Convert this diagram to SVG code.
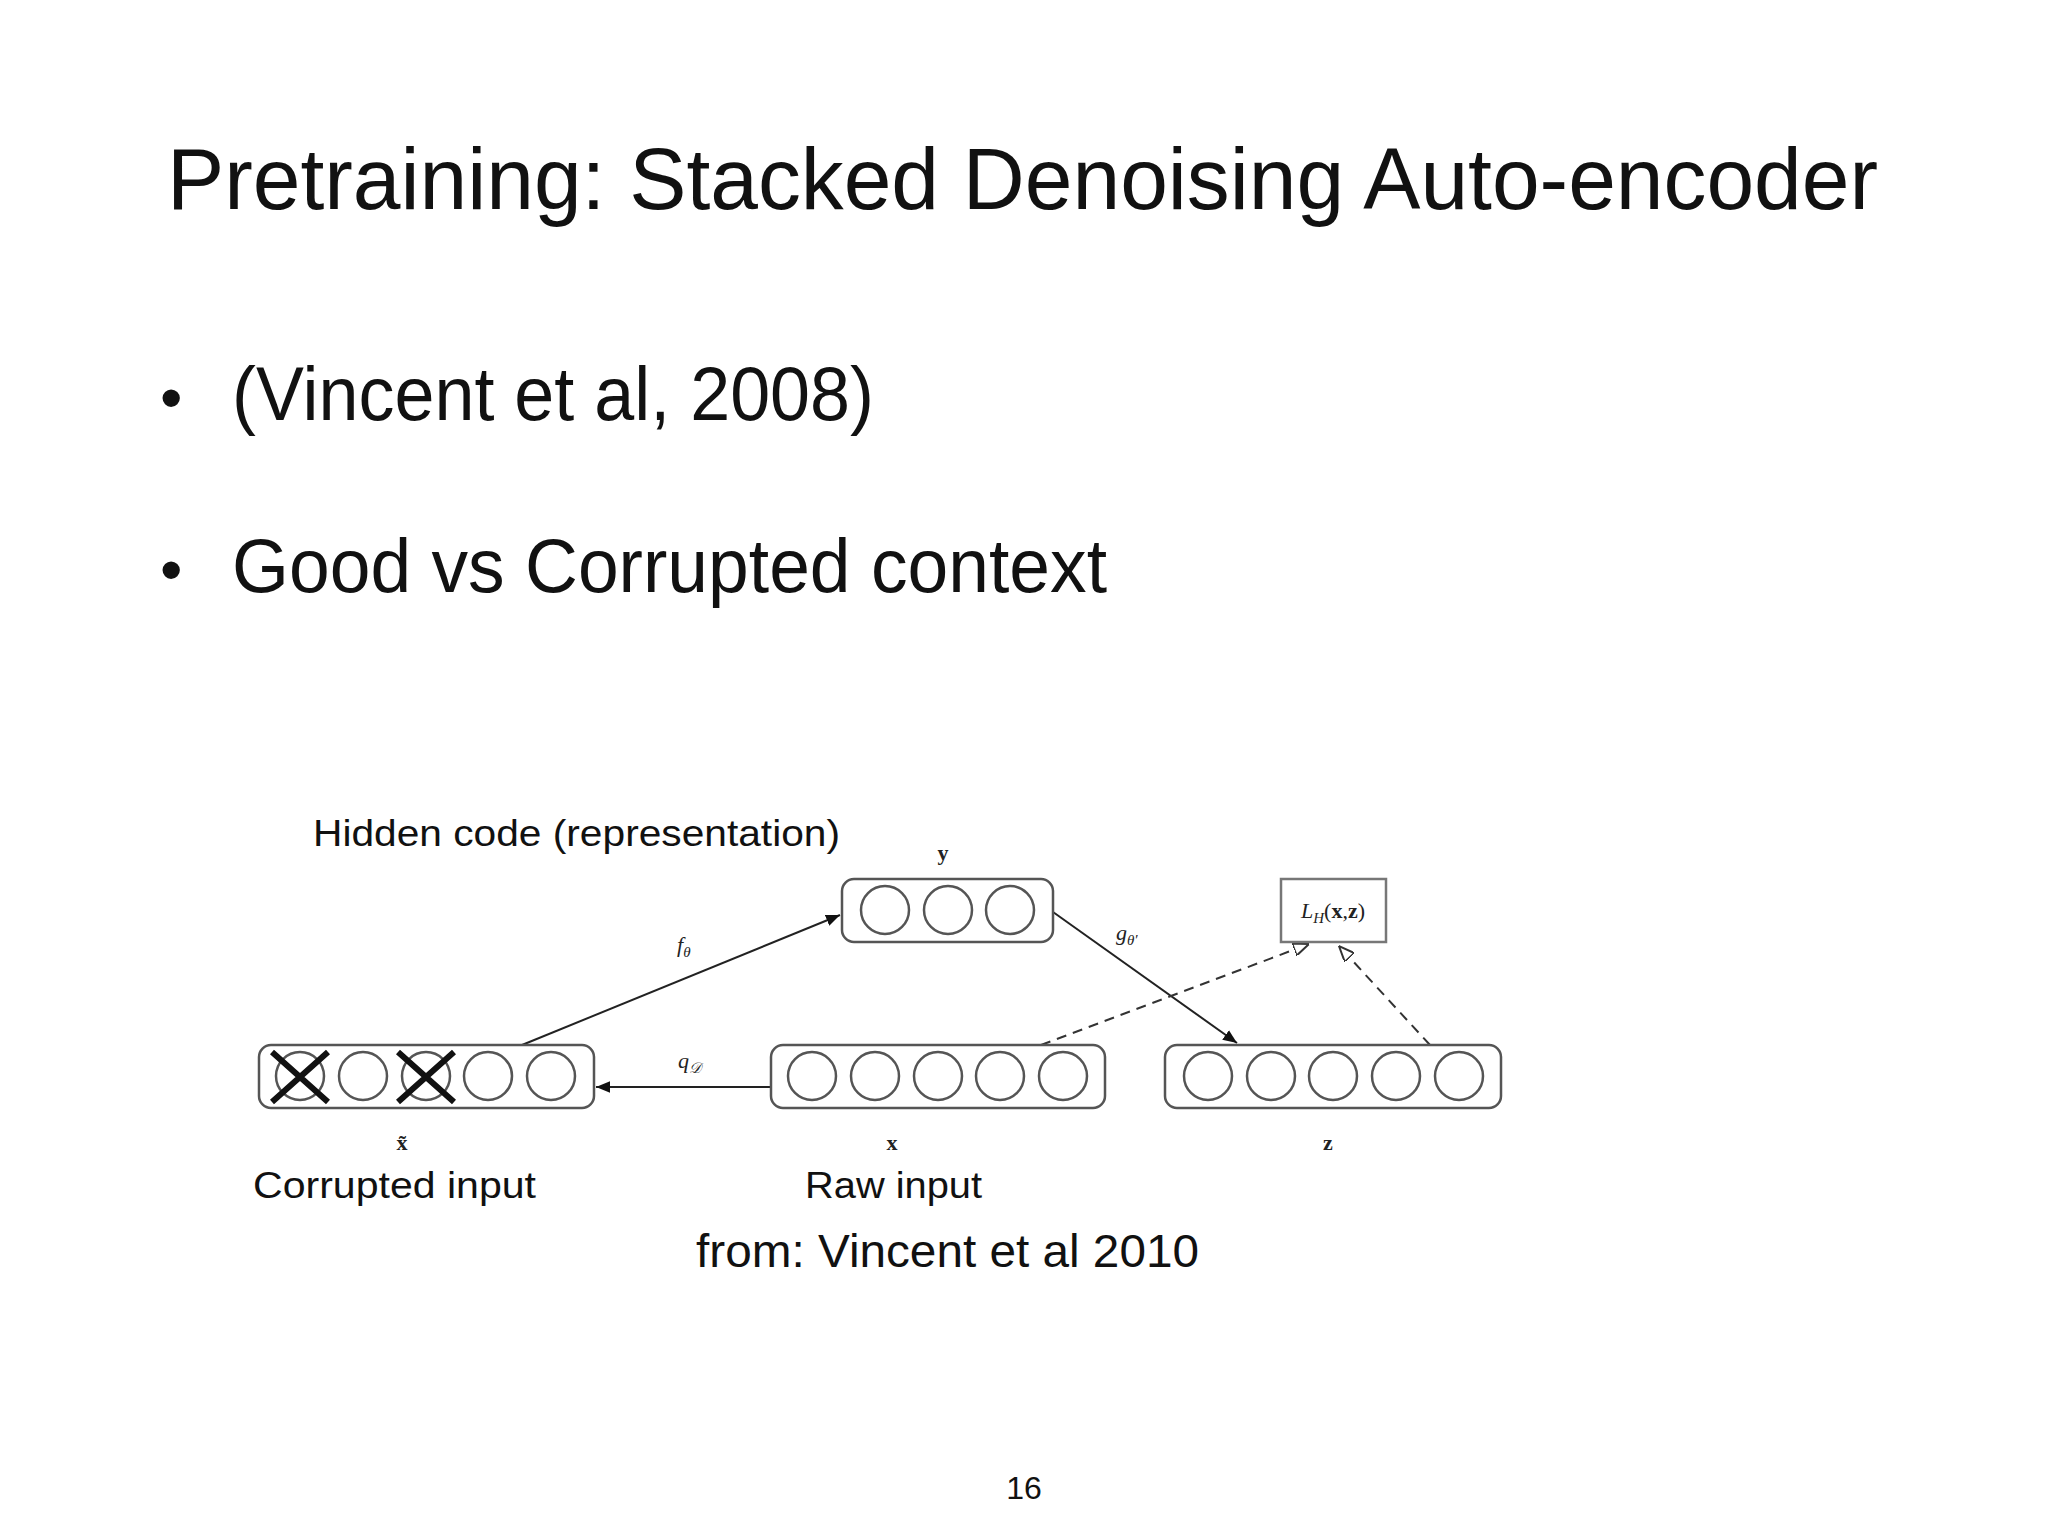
<svg xmlns="http://www.w3.org/2000/svg" width="2048" height="1536" viewBox="0 0 2048 1536">
<style>
.t{font-family:"Liberation Sans",Arial,sans-serif;fill:#111}
.box{fill:#fff;stroke:#555;stroke-width:2.5}
.c{fill:#fff;stroke:#555;stroke-width:2.5}
.m{font-family:"Liberation Serif","Times New Roman",serif;fill:#222;font-weight:bold;font-size:22px;text-anchor:middle}
.i{font-family:"Liberation Serif","Times New Roman",serif;fill:#222;font-style:italic;font-size:22px}
.a{stroke:#222;stroke-width:2;fill:none}
.d{stroke:#333;stroke-width:2;fill:none;stroke-dasharray:10 7}
.x{stroke:#111;stroke-width:6}
</style>
<defs>
<marker id="ah" viewBox="0 0 12 10" refX="12" refY="5" markerWidth="14" markerHeight="12" markerUnits="userSpaceOnUse" orient="auto"><path d="M0,0 L12,5 L0,10 z" fill="#111"/></marker>
<marker id="oh" viewBox="0 0 12 10" refX="12" refY="5" markerWidth="16" markerHeight="13" markerUnits="userSpaceOnUse" orient="auto"><path d="M0,0 L12,5 L0,10 z" fill="#fff" stroke="#333" stroke-width="1.5"/></marker>
</defs>
<rect width="2048" height="1536" fill="#fff"/>
<text class="t" x="167" y="209" font-size="88" textLength="1711" lengthAdjust="spacingAndGlyphs">Pretraining: Stacked Denoising Auto-encoder</text>
<text class="t" x="160" y="420" font-size="64">•</text>
<text class="t" x="232" y="420" font-size="76" textLength="642" lengthAdjust="spacingAndGlyphs">(Vincent et al, 2008)</text>
<text class="t" x="160" y="592" font-size="64">•</text>
<text class="t" x="232" y="592" font-size="76" textLength="875" lengthAdjust="spacingAndGlyphs">Good vs Corrupted context</text>
<g id="connectors">
<line class="a" x1="522" y1="1045" x2="840" y2="915" marker-end="url(#ah)"/>
<line class="a" x1="1053" y1="912" x2="1237" y2="1043" marker-end="url(#ah)"/>
<line class="a" x1="771" y1="1087" x2="596" y2="1087" marker-end="url(#ah)"/>
<line class="d" x1="1041" y1="1045" x2="1309" y2="944" marker-end="url(#oh)"/>
<line class="d" x1="1430" y1="1045" x2="1339" y2="946" marker-end="url(#oh)"/>
</g>
<g id="node-xt">
<rect class="box" x="259" y="1045" width="335" height="63" rx="12"/>
<circle class="c" cx="300" cy="1076" r="24"/><circle class="c" cx="363" cy="1076" r="24"/><circle class="c" cx="426" cy="1076" r="24"/><circle class="c" cx="488" cy="1076" r="24"/><circle class="c" cx="551" cy="1076" r="24"/>
<path class="x" d="M272,1052 L328,1102 M328,1052 L272,1102 M398,1052 L454,1102 M454,1052 L398,1102"/>
<text class="m" x="402" y="1150">x̃</text>
</g>
<g id="node-x">
<rect class="box" x="771" y="1045" width="334" height="63" rx="12"/>
<circle class="c" cx="812" cy="1076" r="24"/><circle class="c" cx="875" cy="1076" r="24"/><circle class="c" cx="938" cy="1076" r="24"/><circle class="c" cx="1000" cy="1076" r="24"/><circle class="c" cx="1063" cy="1076" r="24"/>
<text class="m" x="892" y="1150">x</text>
</g>
<g id="node-z">
<rect class="box" x="1165" y="1045" width="336" height="63" rx="12"/>
<circle class="c" cx="1208" cy="1076" r="24"/><circle class="c" cx="1271" cy="1076" r="24"/><circle class="c" cx="1333" cy="1076" r="24"/><circle class="c" cx="1396" cy="1076" r="24"/><circle class="c" cx="1459" cy="1076" r="24"/>
<text class="m" x="1328" y="1150">z</text>
</g>
<g id="node-y">
<rect class="box" x="842" y="879" width="211" height="63" rx="12"/>
<circle class="c" cx="885" cy="910" r="24"/><circle class="c" cx="948" cy="910" r="24"/><circle class="c" cx="1010" cy="910" r="24"/>
<text class="m" x="943" y="860">y</text>
</g>
<g id="node-loss">
<rect x="1281" y="879" width="105" height="63" fill="#fff" stroke="#777" stroke-width="2.5"/>
<text x="1333" y="918" text-anchor="middle" font-family="Liberation Serif,serif" font-size="22" fill="#222"><tspan font-style="italic">L</tspan><tspan font-style="italic" font-size="15" dy="5">H</tspan><tspan dy="-5">(</tspan><tspan font-weight="bold">x</tspan>,<tspan font-weight="bold">z</tspan>)</text>
</g>
<text class="i" x="677" y="952">f<tspan font-size="15" dy="5">θ</tspan></text>
<text class="i" x="1116" y="940">g<tspan font-size="15" dy="5">θ′</tspan></text>
<text class="i" x="678" y="1068">q<tspan font-size="15" dy="5">𝒟</tspan></text>
<text class="t" x="313" y="846" font-size="37" textLength="527" lengthAdjust="spacingAndGlyphs">Hidden code (representation)</text>
<text class="t" x="253" y="1198" font-size="37" textLength="283" lengthAdjust="spacingAndGlyphs">Corrupted input</text>
<text class="t" x="805" y="1198" font-size="37" textLength="177" lengthAdjust="spacingAndGlyphs">Raw input</text>
<text class="t" x="696" y="1267" font-size="46" textLength="503" lengthAdjust="spacingAndGlyphs">from: Vincent et al 2010</text>
<text class="t" x="1024" y="1499" font-size="32" text-anchor="middle">16</text>
</svg>
